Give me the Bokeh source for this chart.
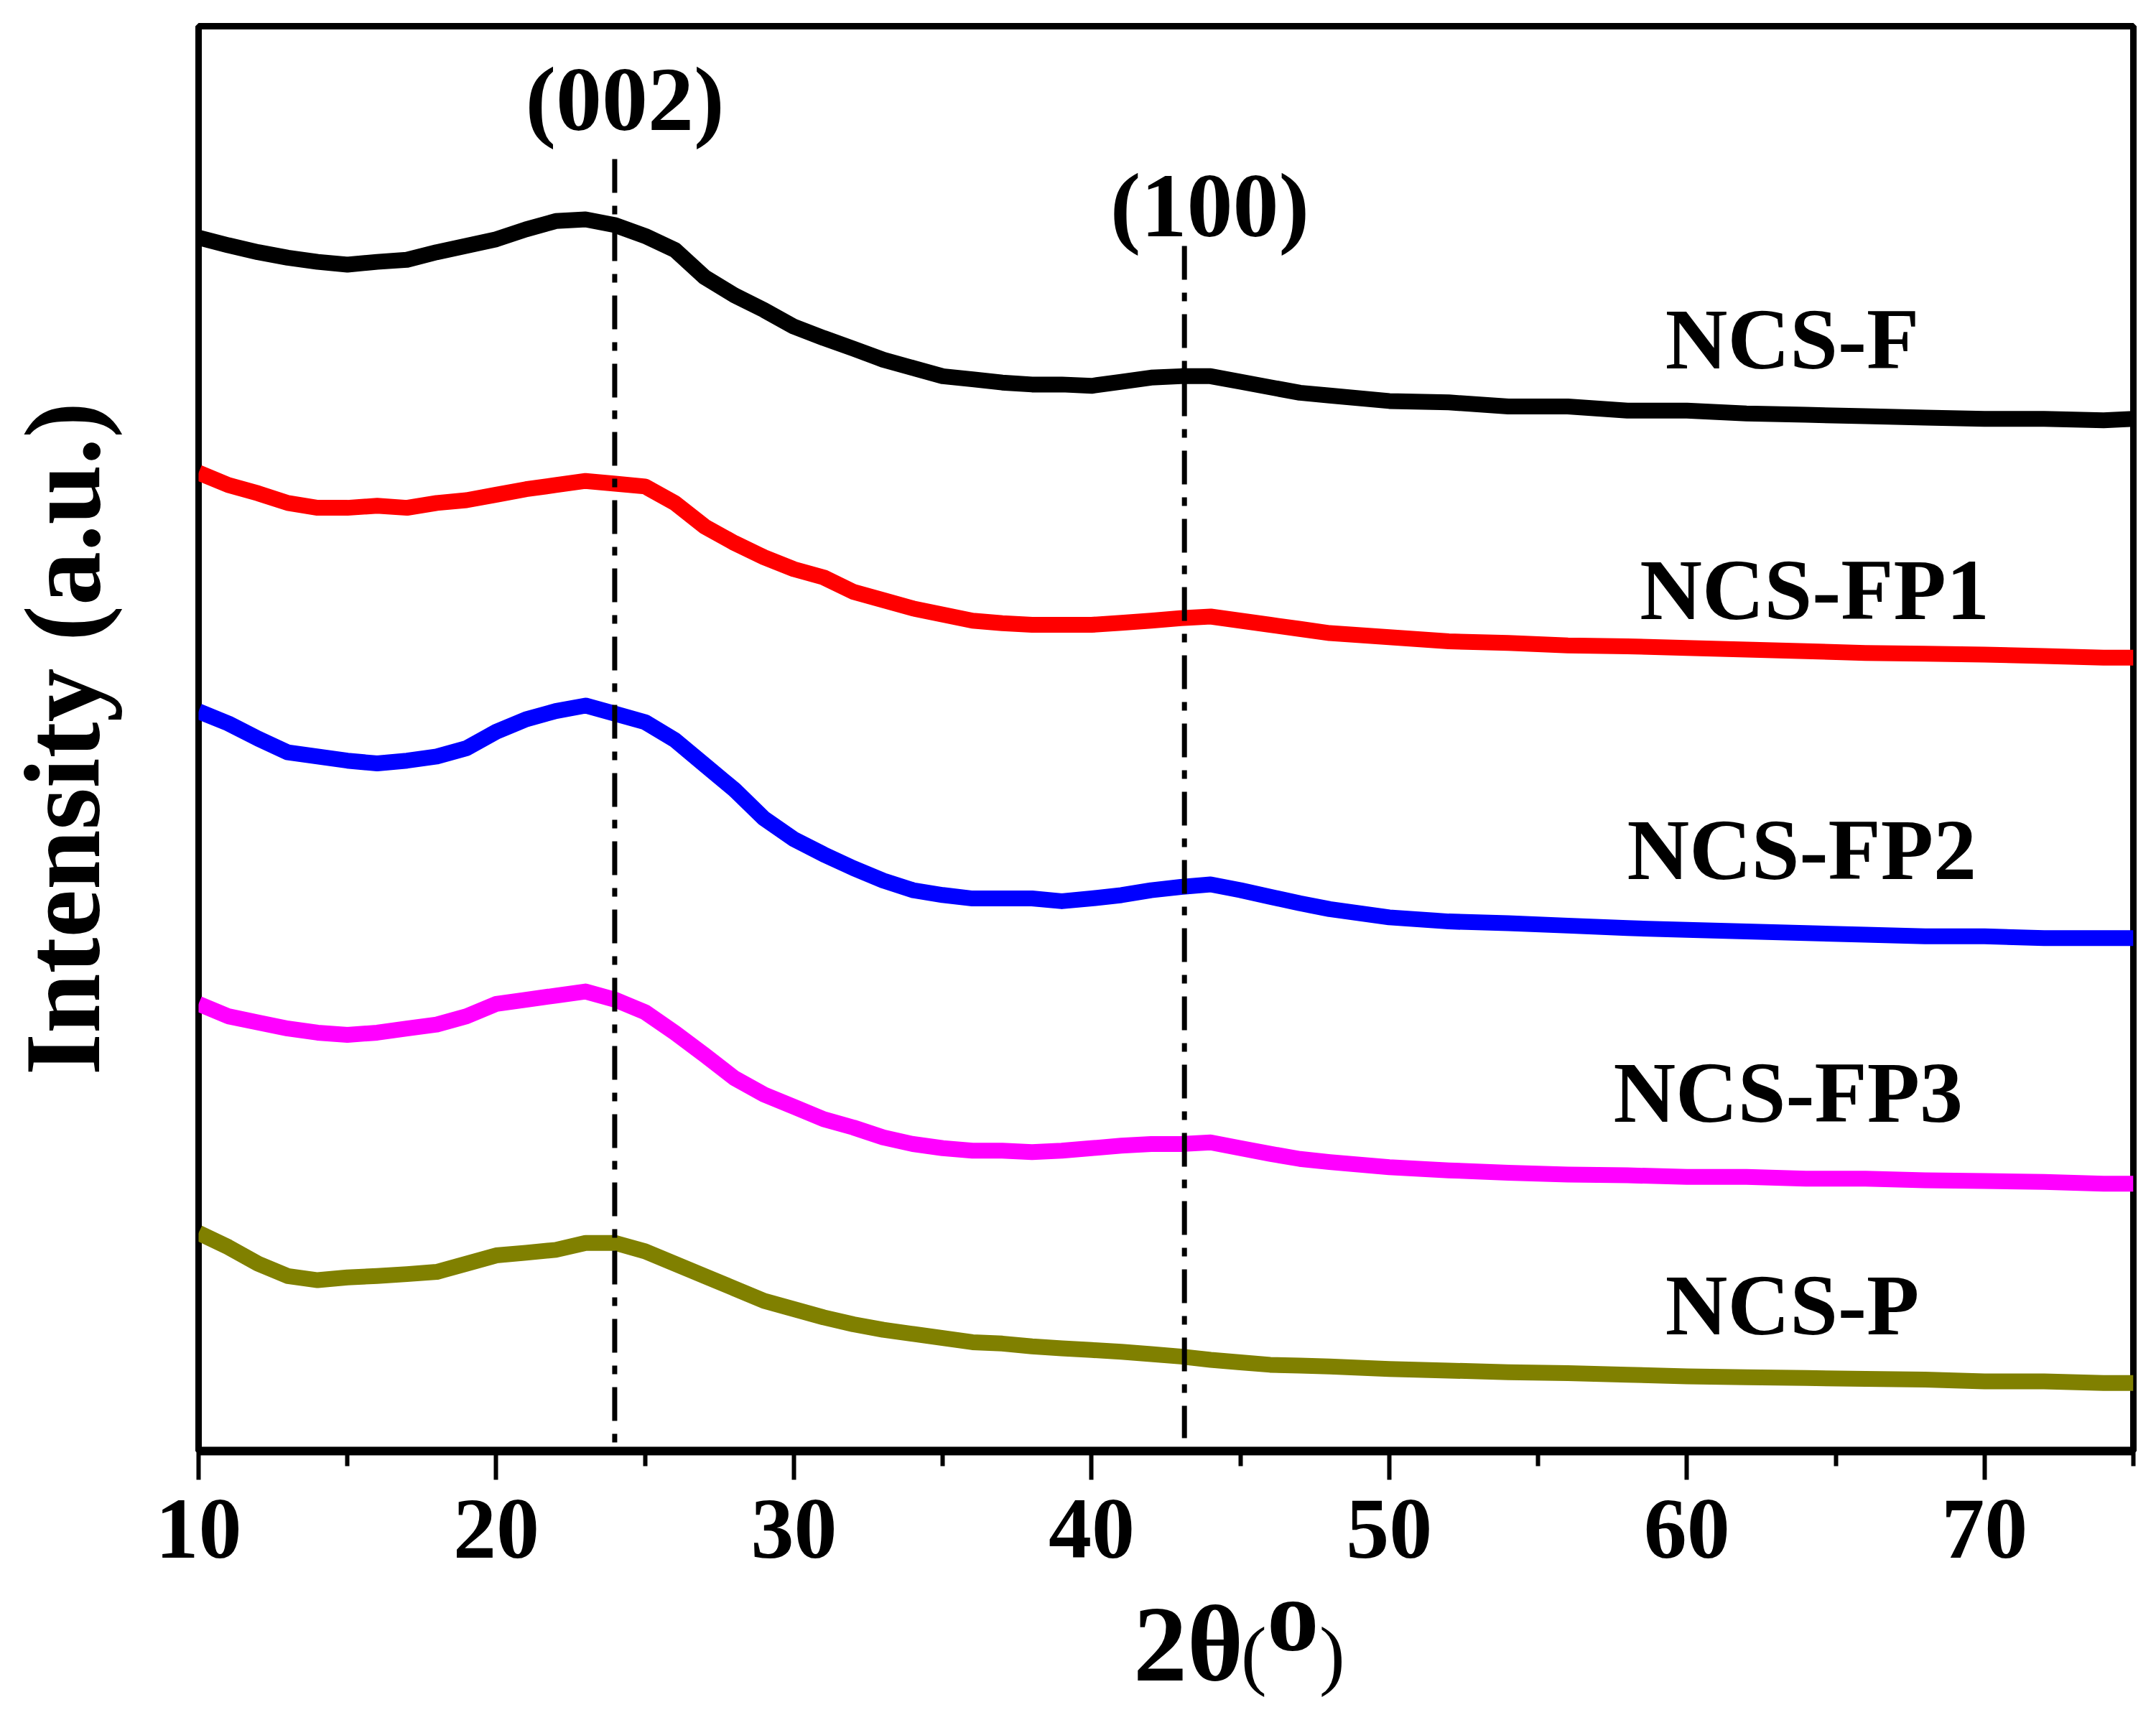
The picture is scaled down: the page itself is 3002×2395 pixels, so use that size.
from bokeh.plotting import figure
from bokeh.models import Label, FixedTicker, Range1d, Div
from bokeh.layouts import column
from bokeh.embed import file_html
from bokeh.resources import INLINE

# ---- data (2theta in degrees, intensity in arbitrary units) ----
two_theta = list(range(10, 49)) + list(range(50, 75, 2)) + [75]

ncs_f = [880.6, 875, 870, 866, 863, 861, 863, 864.5, 870, 874.7, 879.4, 886.6, 892.6, 893.8,
         889.6, 881.8, 871.7, 851.9, 838.8, 828, 816, 807.7, 800, 792, 786, 780, 777.8, 775.4,
         774, 774,
         773, 776, 779, 780, 780, 776, 772, 768, 766,
         762, 761, 758, 758, 755, 755, 753, 752, 751, 750, 749, 749, 748, 749]
ncs_fp1 = [710, 701, 695, 688, 684.5, 684.5, 686, 684.5, 688, 690, 694, 698, 701, 704,
           702, 700, 688, 671, 659, 648.6, 640, 634, 623.5, 617.5, 611.5, 607, 602.6, 600.8,
           599.6, 599.6,
           599.6, 601, 602.6, 604.4, 605.6, 602.6, 599.6, 596.6, 593.6,
           590.6, 587.6, 586.4, 584.6, 584, 582.8, 581.6, 580.4, 579.2, 578.6, 578, 576.9, 575.7, 575.7]
ncs_fp2 = [536.8, 528, 517, 507, 504, 501, 499, 501, 504, 510, 522, 531, 537, 541,
           535, 529, 516, 498, 480, 459, 444, 433, 423, 414, 407, 403.5, 401, 401,
           401, 399,
           401, 403.4, 407, 409.4, 411.2, 407, 402.2, 397.5, 393.3,
           387.3, 384.3, 383, 381.3, 379.5, 378.3, 377.1, 375.9, 374.7, 373.5, 373.5, 372.3, 372.3, 372.3]
ncs_fp3 = [324.5, 315.5, 311, 306.6, 303.6, 302, 303.6, 306.6, 309.5, 315.5, 324.5, 327.5, 330.5, 333.5,
           327.5, 318.5, 303.6, 287.4, 270.7, 258.7, 249.8, 240.8, 234.8, 227.6, 222.8, 219.8, 218, 218,
           216.9, 218,
           219.8, 221.6, 222.8, 222.8, 224, 219.8, 215.7, 212, 209.7,
           206, 203.7, 201.9, 200.7, 200.1, 198.9, 198.9, 197.7, 197.7, 196.5, 196, 195.3, 194, 194]
ncs_p = [158.3, 148, 136, 127, 124, 126, 127, 128.4, 130, 136, 142, 143.9, 146, 151,
         151, 145, 136, 127, 118, 109, 103, 97, 92, 88, 85, 82, 79, 78,
         76, 74.5,
         73.3, 72, 70.4, 68.6, 66.2, 64.4, 62.6, 62, 61.4,
         59.6, 58.4, 57.2, 56.6, 55.4, 54.2, 53.6, 53, 52.4, 51.8, 50.6, 50.6, 49.4, 49.4]

series_names = ["NCS-F", "NCS-FP1", "NCS-FP2", "NCS-FP3", "NCS-P"]
series_values = [ncs_f, ncs_fp1, ncs_fp2, ncs_fp3, ncs_p]
series_colors = ["#000000", "#FF0000", "#0000FF", "#FF00FF", "#808000"]
label_x = [63.54, 64.29, 63.86, 63.40, 63.54]
label_y = [807, 625, 436, 260, 106]

major_ticks = [10, 20, 30, 40, 50, 60, 70]
minor_ticks = [15, 25, 35, 45, 55, 65, 75]

peak_names = ["(002)", "(100)"]
peak_pos = [23.98, 43.12]
peak_line_top = [937.6, 874.5]
peak_line_bottom = [6.3, 9.4]
peak_label_x = [24.32, 43.97]
peak_label_y = [981, 904]

FONT = "Liberation Serif"

p = figure(width=2986, height=2205, output_backend="svg", toolbar_location=None,
           x_range=Range1d(10, 75), y_range=Range1d(0, 1034),
           min_border_left=274, min_border_right=16, min_border_top=36, min_border_bottom=185)
p.background_fill_color = "white"
p.border_fill_color = "white"
p.grid.visible = False
p.outline_line_color = "black"
p.outline_line_width = 9

xa = p.xaxis[0]
xa.ticker = FixedTicker(ticks=major_ticks, minor_ticks=minor_ticks)
xa.axis_line_width = 12
xa.axis_line_color = "black"
xa.major_tick_out = 40
xa.major_tick_in = 0
xa.minor_tick_out = 21
xa.minor_tick_in = 0
xa.major_tick_line_width = 6
xa.minor_tick_line_width = 6
xa.major_label_text_font = FONT
xa.major_label_text_font_style = "bold"
xa.major_label_text_font_size = "120px"
xa.major_label_text_color = "black"
xa.major_label_standoff = 29

ya = p.yaxis[0]
ya.ticker = FixedTicker(ticks=[], minor_ticks=[])
ya.axis_line_color = None
ya.major_tick_out = 0
ya.major_tick_in = 0
ya.minor_tick_out = 0
ya.minor_tick_in = 0
ya.major_label_standoff = 0
ya.axis_label = "Intensity (a.u.)"
ya.axis_label_text_font = FONT
ya.axis_label_text_font_style = "bold"
ya.axis_label_text_font_size = "150px"
ya.axis_label_text_color = "black"
ya.axis_label_standoff = 107

for vals, col in zip(series_values, series_colors):
    p.line(two_theta, vals, line_color=col, line_width=22, line_join="round")

for i in range(2):
    p.line([peak_pos[i], peak_pos[i]], [peak_line_top[i], peak_line_bottom[i]],
           line_color="black", line_width=7, line_dash="47 18 12 18")
    p.add_layout(Label(x=peak_label_x[i], y=peak_label_y[i], text=peak_names[i],
                       text_font=FONT, text_font_style="bold", text_font_size="128px",
                       text_align="center", text_baseline="alphabetic", text_color="black"))

for name, lx, ly in zip(series_names, label_x, label_y):
    p.add_layout(Label(x=lx, y=ly, text=name, text_font=FONT, text_font_style="bold",
                       text_font_size="120px", text_align="center",
                       text_baseline="alphabetic", text_color="black"))

# x title "2θ(°)" with a superscript o, written as HTML below the plot
span = ("<span style=\"position:absolute;left:{l}px;top:{t}px;line-height:0;white-space:nowrap;"
        "font-family:'Liberation Serif';font-weight:{w};font-size:{s}px;color:#000;\">{txt}</span>")
xtitle_html = ("<div style=\"position:relative;width:2986px;height:174px;\">"
               + span.format(l=1578, t=84, w="bold", s=150, txt="2θ")
               + span.format(l=1728, t=99, w="normal", s=107, txt="(")
               + span.format(l=1764, t=44, w="bold", s=145, txt="o")
               + span.format(l=1837, t=99, w="normal", s=107, txt=")")
               + "</div>")
xtitle = Div(text=xtitle_html, width=2986, height=174, margin=0)

layout = column(p, xtitle, spacing=0)

open("out.html", "w").write(file_html(layout, INLINE))
